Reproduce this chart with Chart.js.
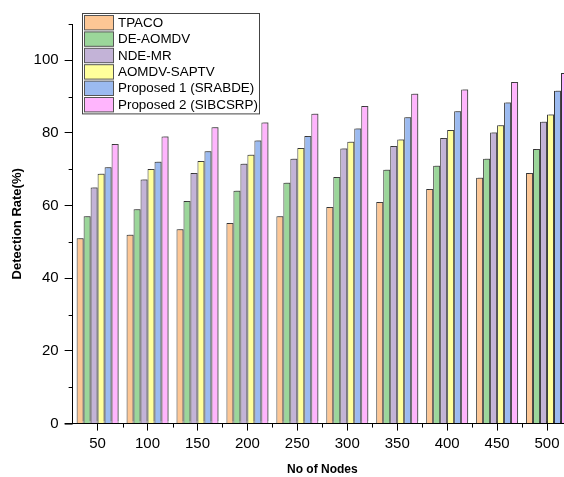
<!DOCTYPE html>
<html>
<head>
<meta charset="utf-8">
<script src="https://cdn.jsdelivr.net/npm/chart.js@4"></script>
<style>
  html, body { margin: 0; padding: 0; background: #fff; overflow: hidden; }
  #wrap { position: absolute; left: 0; top: 0; width: 600px; height: 477px; }
</style>
</head>
<body>
<div id="wrap"><canvas id="rateChart" width="600" height="477"></canvas></div>
<script>
const nodeCounts = ["50", "100", "150", "200", "250", "300", "350", "400", "450", "500"];
const seriesNames = ["TPACO", "DE-AOMDV", "NDE-MR", "AOMDV-SAPTV", "Proposed 1 (SRABDE)", "Proposed 2 (SIBCSRP)"];
const seriesColors = ["#fdc795", "#9bd69a", "#c3b3d7", "#ffff9b", "#9bbaf0", "#ffb5fd"];

const tpaco = [51.0, 52.0, 53.5, 55.2, 57.1, 59.6, 61.0, 64.6, 67.7, 69.0];
const deAomdv = [57.1, 59.0, 61.3, 64.1, 66.3, 67.9, 69.9, 71.0, 72.9, 75.6];
const ndeMr = [65.0, 67.2, 69.0, 71.5, 72.9, 75.7, 76.4, 78.6, 80.1, 83.1];
const aomdvSaptv = [68.8, 70.1, 72.3, 74.0, 75.9, 77.6, 78.2, 80.8, 82.1, 85.1];
const proposed1 = [70.6, 72.1, 75.0, 77.9, 79.2, 81.2, 84.3, 86.0, 88.4, 91.6];
const proposed2 = [77.0, 79.0, 81.6, 82.9, 85.3, 87.4, 90.8, 92.0, 94.0, 96.5];

const allSeries = [tpaco, deAomdv, ndeMr, aomdvSaptv, proposed1, proposed2];
const fontFamily = "'Liberation Sans', Arial, sans-serif";

// gray offset shadow behind the bars
const barShadow = {
  id: "barShadow",
  beforeDatasetsDraw(chart) {
    const ctx = chart.ctx;
    ctx.save();
    ctx.shadowColor = "rgba(80,80,80,0.55)";
    ctx.shadowOffsetX = 2;
    ctx.shadowOffsetY = -2;
    ctx.shadowBlur = 0;
  },
  afterDatasetsDraw(chart) {
    chart.ctx.restore();
  },
};

// short minor ticks between the labelled ones
const minorTicks = {
  id: "minorTicks",
  afterDraw(chart) {
    const ctx = chart.ctx;
    const x = chart.scales.x;
    const y = chart.scales.y;
    ctx.save();
    ctx.strokeStyle = "#000";
    ctx.lineWidth = 1;
    ctx.beginPath();
    for (let v = 10; v <= 110; v += 20) {
      const py = Math.round(y.getPixelForValue(v)) + 0.5;
      ctx.moveTo(y.right - 4, py);
      ctx.lineTo(y.right, py);
    }
    for (let i = 0; i < nodeCounts.length - 1; i++) {
      const px = Math.round((x.getPixelForValue(i) + x.getPixelForValue(i + 1)) / 2) + 0.5;
      ctx.moveTo(px, x.top);
      ctx.lineTo(px, x.top + 4);
    }
    ctx.moveTo(x.left - 8, x.top + 0.5);
    ctx.lineTo(x.left, x.top + 0.5);
    ctx.stroke();
    ctx.restore();
  },
};

// legend box inside the plot, top left
const boxLegend = {
  id: "boxLegend",
  afterDraw(chart) {
    const ctx = chart.ctx;
    const left = 82, top = 13, width = 177, rowH = 16.4;
    ctx.save();
    ctx.fillStyle = "#fff";
    ctx.fillRect(left, top, width, rowH * 6 + 2);
    ctx.strokeStyle = "#444";
    ctx.lineWidth = 1;
    ctx.strokeRect(left + 0.5, top + 0.5, width, rowH * 6 + 2);
    ctx.font = "13.4px " + fontFamily;
    ctx.textBaseline = "middle";
    chart.data.datasets.forEach((ds, i) => {
      const ry = top + 2 + i * rowH;
      ctx.fillStyle = ds.backgroundColor;
      ctx.fillRect(left + 2.5, ry + 0.5, 29, rowH - 2);
      ctx.strokeStyle = "#555";
      ctx.strokeRect(left + 2.5, ry + 0.5, 29, rowH - 2);
      ctx.fillStyle = "#000";
      ctx.fillText(ds.label, left + 36, ry + rowH / 2);
    });
    ctx.restore();
  },
};

function buildChart() {
  const context = document.getElementById("rateChart");
  return new Chart(context, {
    type: "bar",
    data: {
      labels: nodeCounts,
      datasets: seriesNames.map((name, i) => ({
        label: name,
        data: allSeries[i],
        backgroundColor: seriesColors[i],
        borderColor: "#333",
        borderWidth: 1,
        borderSkipped: "bottom",
        categoryPercentage: 0.84,
        barPercentage: 1,
      })),
    },
    options: {
      responsive: false,
      animation: false,
      devicePixelRatio: 1,
      layout: { padding: { left: 6, right: 28, top: 24, bottom: 0 } },
      plugins: {
        legend: { display: false },
        tooltip: { enabled: false },
      },
      scales: {
        x: {
          offset: true,
          grid: { display: true, drawOnChartArea: false, offset: false, tickLength: 7, color: "#000" },
          border: { display: true, color: "#000", width: 1 },
          ticks: { color: "#000", font: { family: fontFamily, size: 15 }, padding: 4, maxRotation: 0 },
          title: {
            display: true,
            text: "No of Nodes",
            color: "#000",
            font: { family: fontFamily, size: 12, weight: "bold" },
            padding: { top: 6, bottom: 0 },
          },
        },
        y: {
          min: 0,
          max: 110,
          ticks: {
            stepSize: 10,
            color: "#000",
            font: { family: fontFamily, size: 15 },
            padding: 6,
            callback: (value) => (value % 20 === 0 ? value : ""),
          },
          grid: {
            display: true,
            drawOnChartArea: false,
            tickLength: 8,
            tickColor: (ctx) => (ctx.tick && ctx.tick.value % 20 === 0 ? "#000" : "rgba(0,0,0,0)"),
          },
          border: { display: true, color: "#000", width: 1 },
          title: {
            display: true,
            text: "Detection Rate(%)",
            color: "#000",
            font: { family: fontFamily, size: 13, weight: "bold" },
            padding: { top: 4, bottom: 2 },
          },
        },
      },
    },
    plugins: [barShadow, minorTicks, boxLegend],
  });
}

buildChart();
</script>
</body>
</html>
